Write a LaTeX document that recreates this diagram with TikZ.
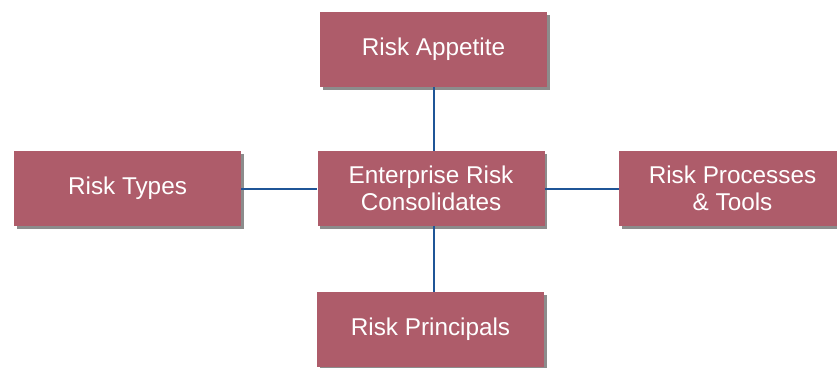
\documentclass[tikz,border=0pt]{standalone}
\usepackage{fontspec}
\setmainfont{Liberation Sans}
\usetikzlibrary{shadows}
\definecolor{riskred}{HTML}{AE5C6A}
\definecolor{linkblue}{HTML}{1F5597}
\tikzset{
  box/.style={rectangle,fill=riskred,text=white,minimum width=227pt,minimum height=75pt,
    inner sep=0pt,align=center,font=\fontsize{24.3}{27.5}\selectfont,
    drop shadow={shadow xshift=2.5pt,shadow yshift=-2.5pt,fill=black,opacity=.45}},
  link/.style={draw=linkblue,line width=2pt}
}
\begin{document}
\begin{tikzpicture}[x=1pt,y=-1pt]
\useasboundingbox (0,0) rectangle (837,367);
\node[box] (A) at (433.5,49.5) {Risk Appetite};
\node[box] (T) at (127.5,188.5) {Risk Types};
\node[box] (E) at (431,188.5) {Enterprise Risk\\Consolidates};
\node[box] (P) at (732.5,188.5) {Risk Processes\\\& Tools};
\node[box] (R) at (430.5,329.5) {Risk Principals};
\path[link]
  (A) edge (A|-E.north)
  (T) edge (E)
  (E) edge (P)
  (A|-E.south) edge (A|-R.north)
;
\end{tikzpicture}
\end{document}
